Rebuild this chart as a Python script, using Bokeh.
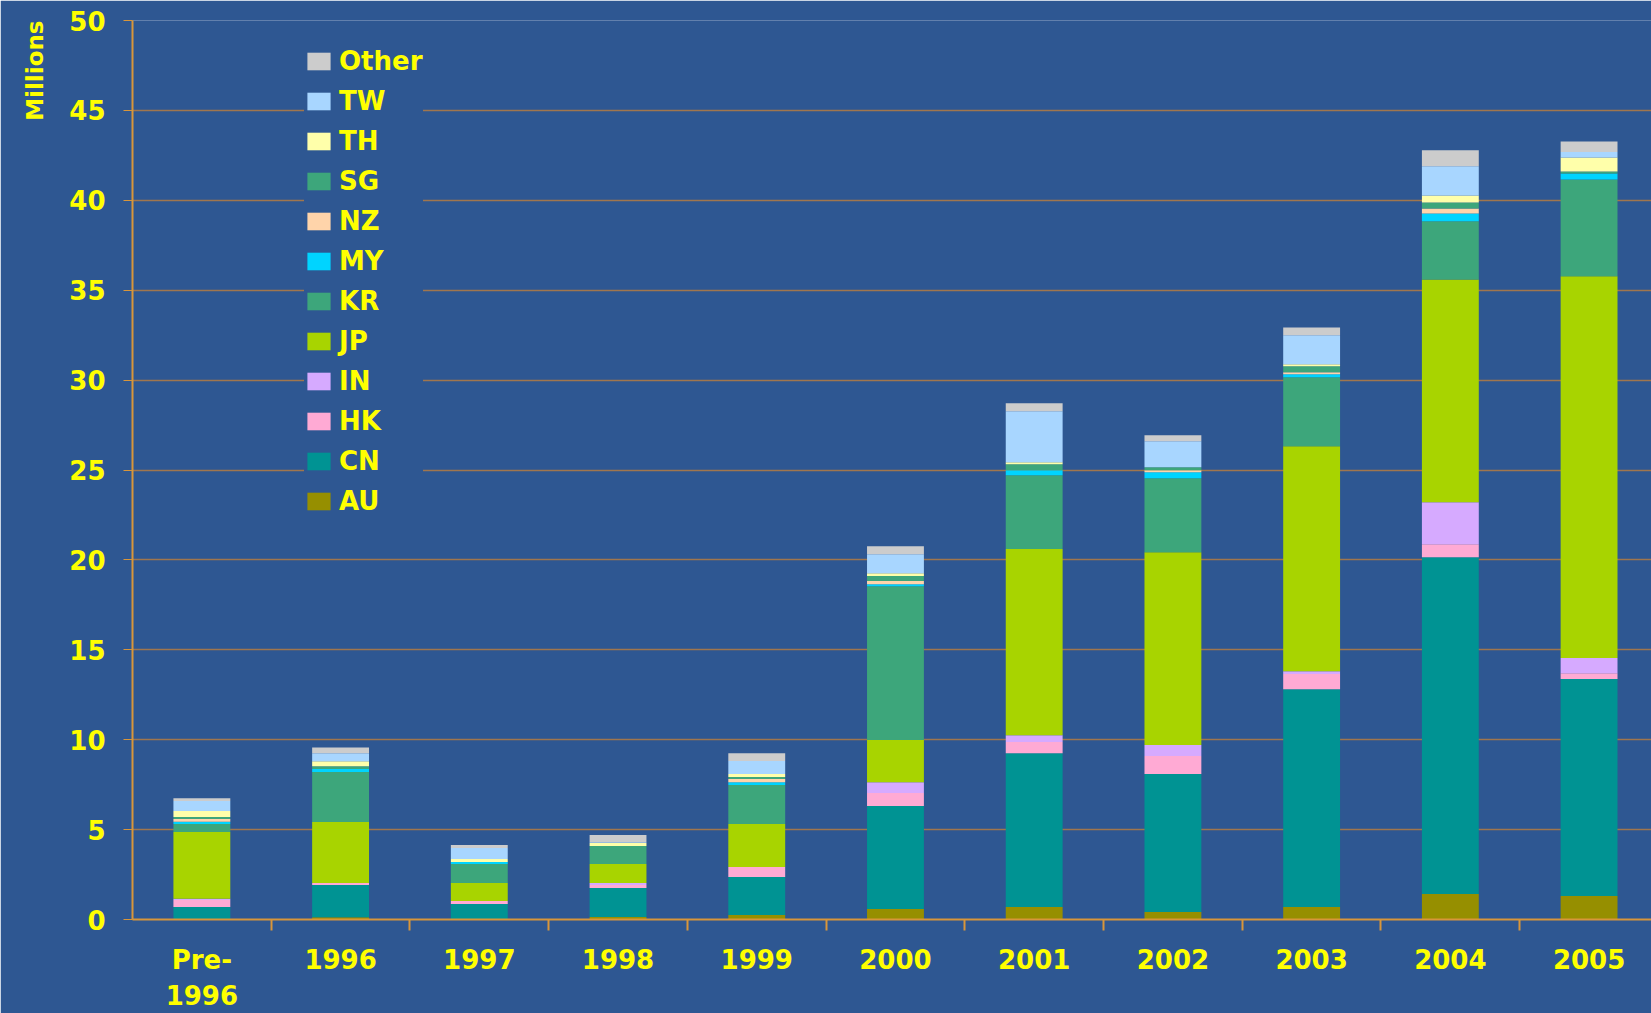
import numpy as np
from bokeh.plotting import figure
from bokeh.models import ColumnDataSource, Range1d, FixedTicker, Legend, LegendItem, Title
from bokeh.embed import file_html
from bokeh.resources import INLINE

# ---------------- data (millions) ----------------
categories = ["Pre-\n1996", "1996", "1997", "1998", "1999", "2000",
              "2001", "2002", "2003", "2004", "2005"]

AU    = [0.00, 0.13, 0.00, 0.14, 0.25, 0.58, 0.69, 0.42, 0.69, 1.42, 1.31]
CN    = [0.69, 1.79, 0.86, 1.61, 2.11, 5.73, 8.56, 7.67, 12.12, 18.73, 12.06]
HK    = [0.39, 0.11, 0.17, 0.17, 0.56, 0.72, 0.62, 1.00, 0.85, 0.72, 0.33]
IN    = [0.08, 0.00, 0.00, 0.11, 0.00, 0.61, 0.38, 0.61, 0.15, 2.34, 0.84]
JP    = [3.70, 3.39, 1.00, 1.05, 2.39, 2.34, 10.35, 10.73, 12.51, 12.39, 21.23]
KR    = [0.45, 2.78, 1.05, 1.01, 2.17, 8.56, 4.11, 4.11, 3.84, 3.23, 5.39]
MY    = [0.13, 0.17, 0.12, 0.00, 0.16, 0.11, 0.28, 0.33, 0.16, 0.44, 0.33]
NZ    = [0.15, 0.00, 0.00, 0.00, 0.17, 0.17, 0.00, 0.11, 0.11, 0.28, 0.00]
SG    = [0.11, 0.15, 0.00, 0.00, 0.11, 0.28, 0.33, 0.17, 0.34, 0.33, 0.11]
TH    = [0.33, 0.28, 0.16, 0.16, 0.17, 0.16, 0.11, 0.00, 0.11, 0.39, 0.78]
TW    = [0.56, 0.44, 0.61, 0.05, 0.72, 1.06, 2.84, 1.45, 1.61, 1.63, 0.30]
Other = [0.16, 0.33, 0.17, 0.40, 0.44, 0.44, 0.44, 0.33, 0.44, 0.88, 0.59]

series_names = ["AU", "CN", "HK", "IN", "JP", "KR", "MY", "NZ", "SG", "TH", "TW", "Other"]
series_values = [AU, CN, HK, IN, JP, KR, MY, NZ, SG, TH, TW, Other]
series_colors = ["#968F00", "#009393", "#FFAAD4", "#D6AAFF", "#A8D400", "#3DA67B",
                 "#00D4FF", "#FFD4AA", "#3DA67B", "#FFFFAA", "#A8D6FF", "#CCCCCC"]

y_ticks = list(range(0, 51, 5))

# ---------------- styling ----------------
BG = "#2E5792"
YELLOW = "#FFFF00"
ORANGE = "#D8963A"
GRID = "#A0764E"
FONT = "DejaVu Sans"

x_centers = [i + 0.5 for i in range(len(categories))]
x_bounds = [float(i) for i in range(1, len(categories))]

data = {"x": x_centers}
for name, vals in zip(series_names, series_values):
    data[name] = vals
src = ColumnDataSource(data)

p = figure(width=1651, height=1013, output_backend="svg", toolbar_location=None,
           x_range=Range1d(0, 10.95), y_range=Range1d(0, 50),
           min_border_left=131, min_border_top=20, min_border_bottom=93, min_border_right=0,
           background_fill_color=BG, border_fill_color=BG, outline_line_color=None)

renderers = p.vbar_stack(series_names, x="x", width=0.41, color=series_colors,
                         line_color=None, source=src)

# x axis: labels at centres, tick marks at category boundaries
xa = p.xaxis[0]
xa.ticker = FixedTicker(ticks=x_centers, minor_ticks=x_bounds)
xa.major_label_overrides = {float(c): lab for c, lab in zip(x_centers, categories)}
xa.major_tick_out = 0
xa.major_tick_in = 0
xa.minor_tick_out = 11
xa.minor_tick_in = 0
xa.minor_tick_line_color = ORANGE
xa.minor_tick_line_width = 2
xa.axis_line_color = ORANGE
xa.axis_line_width = 2
xa.major_label_standoff = 14
xa.major_label_text_font = FONT
xa.major_label_text_font_style = "bold"
xa.major_label_text_font_size = "26px"
xa.major_label_text_color = YELLOW
xa.major_label_text_line_height = 1.2

ya = p.yaxis[0]
ya.ticker = FixedTicker(ticks=y_ticks, minor_ticks=[])
ya.major_tick_out = 9
ya.major_tick_in = 0
ya.major_tick_line_color = ORANGE
ya.axis_line_color = ORANGE
ya.axis_line_width = 2
ya.major_label_standoff = 18
ya.major_label_text_font = FONT
ya.major_label_text_font_style = "bold"
ya.major_label_text_font_size = "26px"
ya.major_label_text_color = YELLOW

p.xgrid.visible = False
p.ygrid.ticker = FixedTicker(ticks=y_ticks, minor_ticks=[])
p.ygrid.grid_line_color = GRID
p.ygrid.grid_line_width = 1.5

p.add_layout(Title(text="Millions", align="right", standoff=38,
                   text_font=FONT, text_font_style="bold", text_font_size="23px",
                   text_color=YELLOW), "left")

items = [LegendItem(label=n, renderers=[r]) for n, r in zip(series_names, renderers)][::-1]
legend = Legend(items=items, location=(172, 403), orientation="vertical",
                glyph_width=29, glyph_height=22, label_height=22, spacing=10,
                label_standoff=6, padding=9, margin=0,
                label_text_font=FONT, label_text_font_style="bold",
                label_text_font_size="26px", label_text_color=YELLOW,
                background_fill_color=BG, background_fill_alpha=1.0,
                border_line_color=None)
p.add_layout(legend)

open("out.html", "w").write(file_html(p, INLINE))
